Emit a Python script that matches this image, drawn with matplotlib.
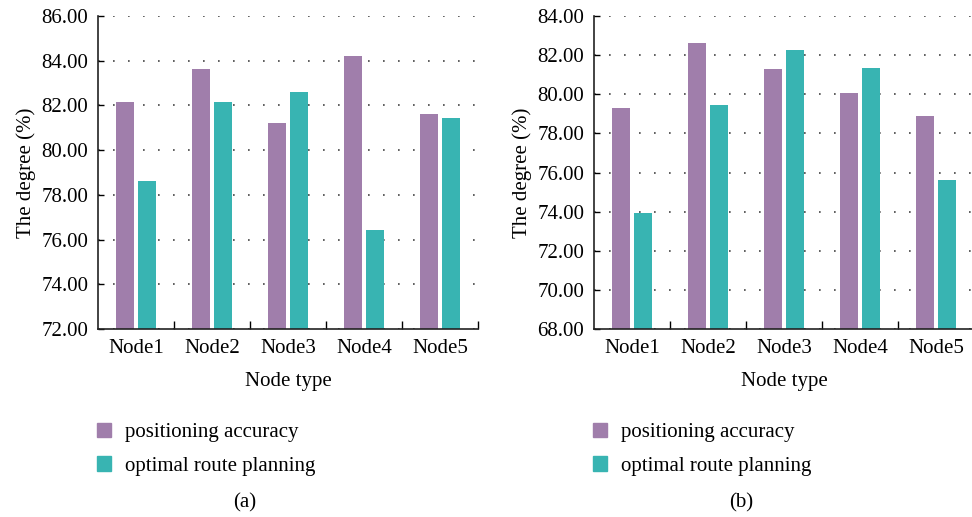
import numpy as np
import matplotlib.pyplot as plt
from matplotlib.patches import Patch
from matplotlib.ticker import FixedLocator

plt.rcParams['font.family'] = ['Liberation Serif', 'DejaVu Serif']
plt.rcParams['font.size'] = 15

nodes = ['Node1', 'Node2', 'Node3', 'Node4', 'Node5']
series = ['positioning accuracy', 'optimal route planning']

# panel (a)
acc_a = [82.14, 83.63, 81.20, 84.21, 81.62]
route_a = [78.63, 82.14, 82.60, 76.44, 81.44]
# panel (b)
acc_b = [79.30, 82.62, 81.29, 80.07, 78.89]
route_b = [73.94, 79.46, 82.26, 81.34, 75.63]

purple = '#a07eab'
teal = '#38b4b2'

fig = plt.figure(figsize=(9.72, 5.17), dpi=100)
W, H = 972, 517


def panel(left_px, acc, route, ylo, yhi, tag):
    ax = fig.add_axes([left_px / W, (H - 329) / H, 380 / W, 313 / H])
    x = np.arange(len(nodes))
    w = 0.24
    ax.bar(x - 0.145, acc, w, bottom=0, color=purple, zorder=2)
    ax.bar(x + 0.145, route, w, bottom=0, color=teal, zorder=2)
    ax.set_xlim(-0.5, 4.5)
    ax.set_ylim(ylo, yhi)
    ax.set_yticks(np.arange(ylo, yhi + 0.1, 2))
    ax.set_yticklabels(['%.2f' % v for v in np.arange(ylo, yhi + 0.1, 2)])
    ax.set_xticks(x)
    ax.set_xticklabels(nodes)
    ax.xaxis.set_minor_locator(FixedLocator(np.arange(0.5, 4.6, 1)))
    ax.tick_params(axis='x', which='major', length=0, pad=7)
    ax.tick_params(axis='x', which='minor', direction='in', length=6, width=1)
    ax.tick_params(axis='y', direction='in', length=4, width=1, pad=7)
    for s in ['top', 'right']:
        ax.spines[s].set_visible(False)
    for s in ['left', 'bottom']:
        ax.spines[s].set_linewidth(1.2)
        ax.spines[s].set_color('#222222')
    ax.yaxis.grid(True, linestyle=(0, (1, 8)), color='#444444', linewidth=1.2, zorder=0)
    ax.set_axisbelow(True)
    ax.set_ylabel('The degree (%)', labelpad=4)
    ax.set_xlabel('Node type', labelpad=10)
    handles = [Patch(color=purple), Patch(color=teal)]
    fig.legend(handles, series, loc='upper left',
               bbox_to_anchor=((left_px - 1) / W, (H - 423) / H),
               frameon=False, borderpad=0, borderaxespad=0,
               handlelength=0.67, handleheight=0.67,
               handletextpad=0.67, labelspacing=0.67, fontsize=15)
    fig.text((left_px + 147) / W, (H - 503) / H, tag, ha='center', va='center', fontsize=15)
    return ax


panel(98, acc_a, route_a, 72, 86, '(a)')
panel(594, acc_b, route_b, 68, 84, '(b)')

fig.savefig('out.png', dpi=100)
